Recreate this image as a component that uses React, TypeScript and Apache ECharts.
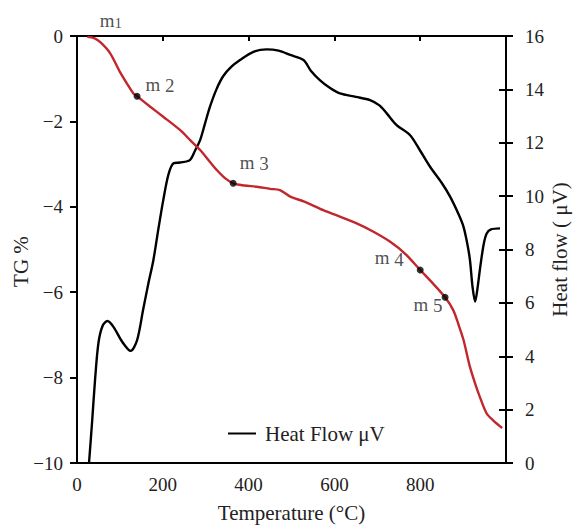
import React, { useEffect, useRef } from "react";
import * as echarts from "echarts";

const tgTemps = [24, 40, 55, 77, 100, 120, 131, 140, 170, 201, 240, 265, 287, 310, 326, 345, 364, 390, 419, 450, 473, 497, 530, 574, 610, 652, 690, 730, 765, 800, 830, 858, 877, 890, 901, 916, 930, 939, 955, 970, 991];
const tgValues = [-0.02, -0.05, -0.15, -0.4, -0.84, -1.17, -1.34, -1.41, -1.65, -1.89, -2.2, -2.45, -2.67, -2.95, -3.14, -3.33, -3.45, -3.5, -3.53, -3.58, -3.61, -3.76, -3.88, -4.08, -4.22, -4.39, -4.58, -4.82, -5.1, -5.48, -5.8, -6.12, -6.42, -6.78, -7.12, -7.75, -8.2, -8.45, -8.84, -9.0, -9.18];

const hfTemps = [28, 35, 42, 50, 60, 71, 85, 105, 125, 140, 154, 166, 178, 190, 201, 213, 225, 240, 263, 275, 287, 298, 310, 325, 341, 360, 380, 410, 442, 470, 497, 528, 545, 566, 590, 613, 650, 683, 705, 722, 745, 776, 800, 823, 850, 870, 890, 901, 910, 916, 922, 928, 934, 940, 948, 955, 965, 986];
const hfValues = [0, 1.5, 3.1, 4.5, 5.15, 5.32, 5.1, 4.55, 4.2, 4.6, 5.73, 6.7, 7.6, 8.8, 9.84, 10.8, 11.23, 11.26, 11.35, 11.7, 12.1, 12.7, 13.35, 14.0, 14.5, 14.85, 15.1, 15.4, 15.5, 15.45, 15.29, 15.1, 14.7, 14.35, 14.05, 13.85, 13.72, 13.6, 13.4, 13.1, 12.66, 12.29, 11.7, 11.1, 10.5, 9.97, 9.3, 8.85, 8.2, 7.6, 6.6, 6.05, 6.6, 7.35, 8.2, 8.6, 8.75, 8.79];

const markerIds = ["1", "2", "3", "4", "5"];
const markerTemps = [30, 140, 364, 800, 858];
const markerTG = [0, -1.41, -3.45, -5.48, -6.12];

const FONT = "Liberation Serif";
const RED = "#c1272d";
const TEXT = "#222";

const labelOffsets: [number, number][] = [
  [21, -16],
  [23, -12],
  [21, -21],
  [-31, -12],
  [-17, 7],
];

const minus = (v: number | string) => String(v).replace("-", "\u2212");

export default function App() {
  const ref = useRef<HTMLDivElement>(null);
  useEffect(() => {
    if (!ref.current) return;
    const chart = echarts.init(ref.current, undefined, { renderer: "svg" });
    const axisLine = { show: true, lineStyle: { color: "#000", width: 2 } };
    const tickStyle = { color: TEXT, fontFamily: FONT, fontSize: 19 };
    const titleStyle = { color: TEXT, fontFamily: FONT, fontSize: 21 };
    chart.setOption({
      animation: false,
      backgroundColor: "#fff",
      grid: {
        left: 77,
        right: 72,
        top: 36,
        bottom: 62,
        containLabel: false,
        outerBoundsMode: "none",
        show: true,
        borderColor: "#000",
        borderWidth: 2,
      },
      legend: {
        data: ["Heat Flow \u03bcV"],
        left: 223,
        top: 418,
        icon: "rect",
        itemWidth: 28,
        itemHeight: 2,
        itemGap: 5,
        textStyle: { ...titleStyle, padding: [0, 0, 0, 4] },
      },
      xAxis: {
        type: "value",
        min: 0,
        max: 1000,
        interval: 200,
        name: "Temperature (\u00b0C)",
        nameLocation: "middle",
        nameGap: 39,
        nameTextStyle: titleStyle,
        axisLine,
        axisTick: { show: true, length: 5, lineStyle: { color: "#000", width: 2 } },
        axisLabel: { ...tickStyle, margin: 12, formatter: (v: number) => (v === 1000 ? "" : String(v)) },
        splitLine: { show: false },
      },
      yAxis: [
        {
          type: "value",
          position: "left",
          min: -10,
          max: 0,
          interval: 2,
          name: "TG %",
          nameLocation: "middle",
          nameRotate: 90,
          nameGap: 46,
          nameMoveOverlap: false,
          nameTextStyle: { ...titleStyle, padding: [0, 24, 0, 0] },
          axisLine,
          axisTick: { show: true, length: 7, lineStyle: { color: "#000", width: 2 } },
          axisLabel: { ...tickStyle, margin: 14, formatter: (v: number) => minus(v) },
          splitLine: { show: false },
        },
        {
          type: "value",
          position: "right",
          min: 0,
          max: 16,
          interval: 2,
          name: "Heat flow ( \u03bcV)",
          nameLocation: "middle",
          nameRotate: 90,
          nameGap: 43,
          nameMoveOverlap: false,
          nameTextStyle: titleStyle,
          axisLine,
          axisTick: { show: true, length: 7, lineStyle: { color: "#000", width: 2 } },
          axisLabel: { ...tickStyle, margin: 19 },
          splitLine: { show: false },
        },
        {
          type: "value",
          position: "right",
          min: 0,
          max: 16,
          interval: 2,
          axisLine: { show: false },
          axisTick: { show: true, inside: true, length: 7, lineStyle: { color: "#000", width: 2 } },
          axisLabel: { show: false },
          splitLine: { show: false },
        },
      ],
      series: [
        {
          name: "Heat Flow \u03bcV",
          type: "line",
          yAxisIndex: 1,
          data: hfTemps.map((t, i) => [t, hfValues[i]]),
          showSymbol: false,
          smooth: 0.3,
          lineStyle: { color: "#000", width: 2.4 },
          itemStyle: { color: "#000" },
        },
        {
          name: "TG",
          type: "line",
          yAxisIndex: 0,
          data: tgTemps.map((t, i) => [t, tgValues[i]]),
          showSymbol: false,
          smooth: 0.3,
          lineStyle: { color: RED, width: 2.4 },
          itemStyle: { color: RED },
          z: 3,
        },
        {
          name: "markers",
          type: "scatter",
          yAxisIndex: 0,
          z: 5,
          data: markerIds.map((id, i) => ({
            value: [markerTemps[i], markerTG[i]],
            symbolSize: i === 0 ? 0 : 7,
            label: {
              show: true,
              position: "inside",
              offset: labelOffsets[i],
              formatter: i === 0 ? `m{a|${id}}` : `m {b|${id}}`,
            },
          })),
          itemStyle: { color: "#000" },
          label: {
            color: TEXT,
            fontFamily: FONT,
            fontSize: 19,
            rich: {
              a: { fontFamily: FONT, fontSize: 15, color: TEXT, verticalAlign: "bottom", padding: [6, 0, 0, 0] },
              b: { fontFamily: FONT, fontSize: 19, color: TEXT, verticalAlign: "bottom", padding: [3, 0, 0, 0] },
            },
          },
        },
      ],
    });
    return () => chart.dispose();
  }, []);
  return <div ref={ref} style={{ position: "fixed", left: 0, top: 0, width: 578, height: 525 }} />;
}
